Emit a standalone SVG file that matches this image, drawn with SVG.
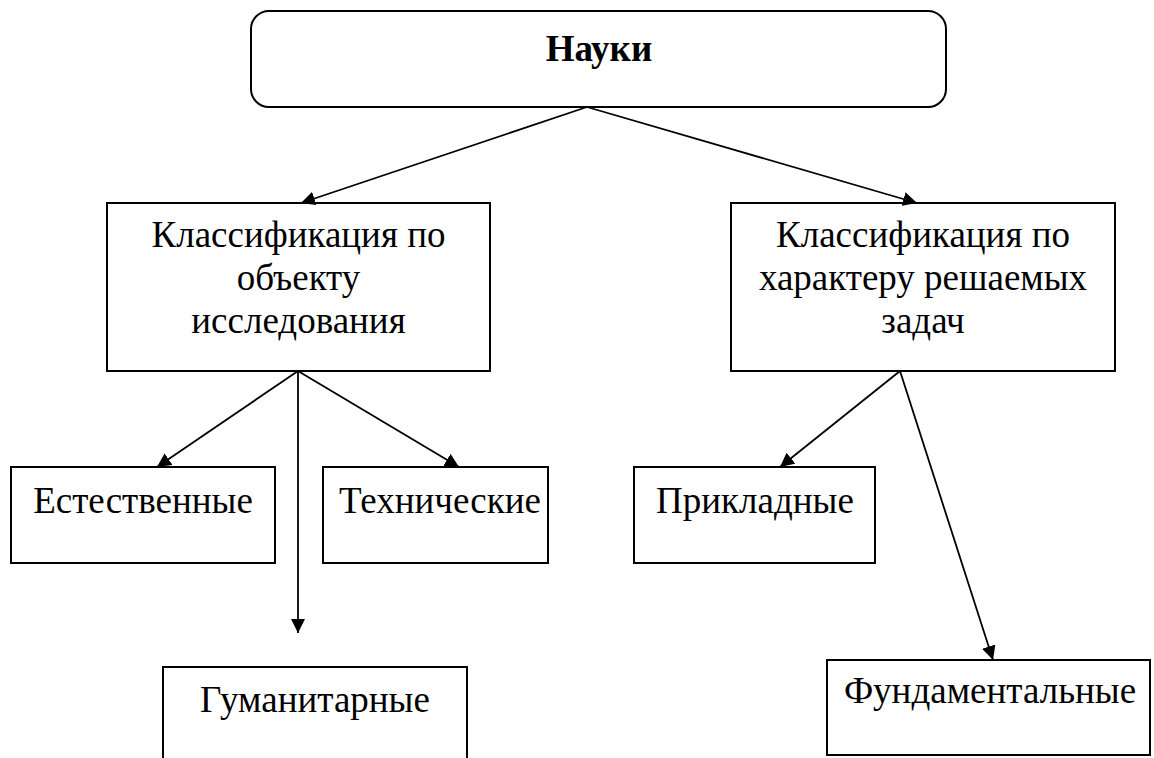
<svg xmlns="http://www.w3.org/2000/svg" width="1154" height="758" viewBox="0 0 1154 758">
<defs>
<marker id="ah" viewBox="0 0 14 14" refX="14" refY="7" markerWidth="14" markerHeight="14" markerUnits="userSpaceOnUse" orient="auto">
<path d="M0,0 L14,7 L0,14 Z" fill="#000"/>
</marker>
<style>
.box{fill:#fff;stroke:#000;stroke-width:2}
text{font-family:'Liberation Serif','Times New Roman',Times,serif;font-size:37px;fill:#000;text-anchor:middle}
.b{font-weight:bold}
.c{stroke:#000;stroke-width:1.8;fill:none;marker-end:url(#ah)}
</style>
</defs>
<rect width="1154" height="758" fill="#fff"/>
<g id="n-nauki">
<rect class="box" x="251" y="11" width="695" height="96" rx="18" ry="18"/>
<text class="b" x="599" y="61">Науки</text>
</g>
<g id="n-object">
<rect class="box" x="107" y="203" width="383" height="168"/>
<text x="298.5" y="247">Классификация по</text>
<text x="298.5" y="290">объекту</text>
<text x="298.5" y="333">исследования</text>
</g>
<g id="n-tasks">
<rect class="box" x="731" y="203" width="384" height="168"/>
<text x="923" y="247">Классификация по</text>
<text x="923" y="290">характеру решаемых</text>
<text x="923" y="333">задач</text>
</g>
<g id="n-natural">
<rect class="box" x="11" y="467" width="264" height="96"/>
<text x="143" y="513">Естественные</text>
</g>
<g id="n-technical">
<rect class="box" x="323" y="467" width="225" height="96"/>
<text x="440" y="513">Технические</text>
</g>
<g id="n-humanities">
<rect class="box" x="163" y="667" width="304" height="110"/>
<text x="315" y="712">Гуманитарные</text>
</g>
<g id="n-applied">
<rect class="box" x="634" y="467" width="241" height="96"/>
<text x="755" y="513">Прикладные</text>
</g>
<g id="n-fundamental">
<rect class="box" x="827" y="660" width="323" height="95"/>
<text x="990" y="703">Фундаментальные</text>
</g>
<g id="connectors">
<line class="c" x1="587" y1="107" x2="301" y2="203"/>
<line class="c" x1="587" y1="107" x2="917" y2="203"/>
<line class="c" x1="298" y1="371" x2="157" y2="467"/>
<line class="c" x1="298" y1="371" x2="298" y2="633"/>
<line class="c" x1="298" y1="371" x2="459" y2="467"/>
<line class="c" x1="900" y1="371" x2="780" y2="467"/>
<line class="c" x1="900" y1="371" x2="993" y2="660"/>
</g>
</svg>
